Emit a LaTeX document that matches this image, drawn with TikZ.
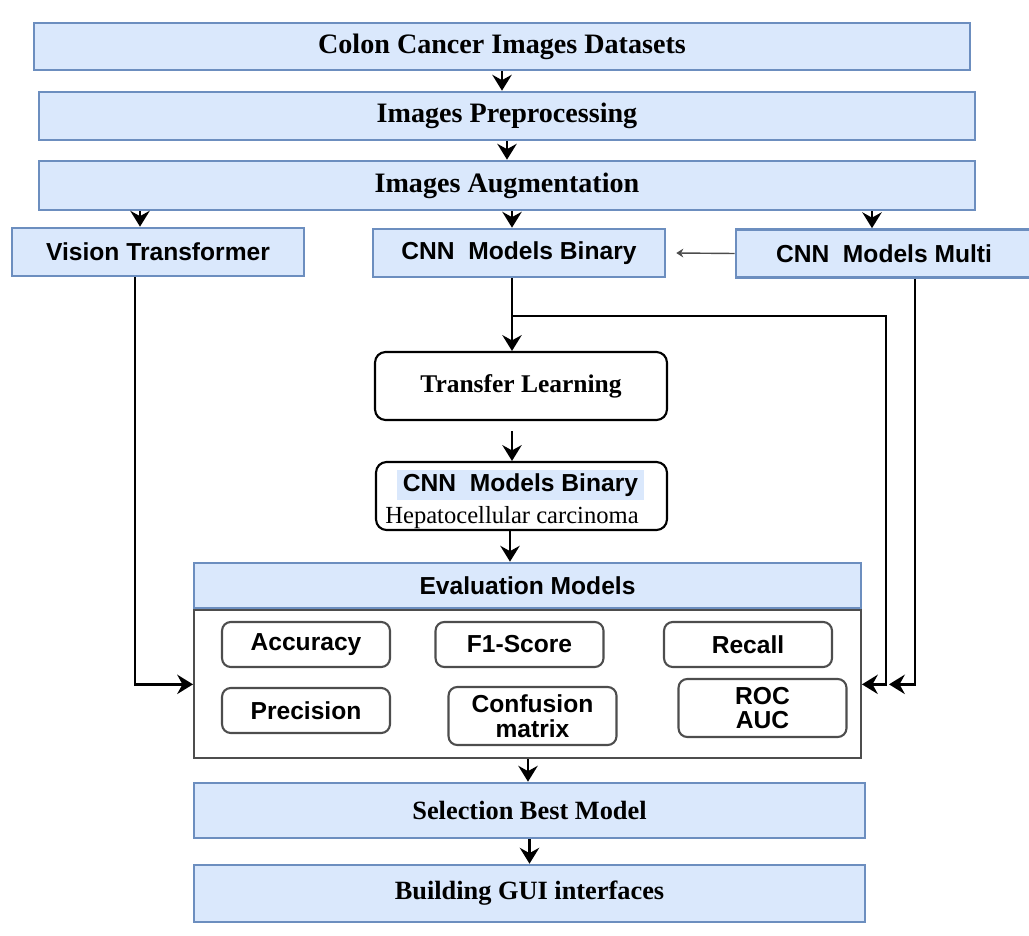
\documentclass[tikz,border=0pt]{standalone}
\usepackage{fontspec}
\setmainfont{Liberation Serif}
\setsansfont{Liberation Sans}
\usetikzlibrary{arrows.meta}
\definecolor{boxfill}{HTML}{DAE8FC}
\definecolor{boxline}{HTML}{6C8EBF}
\definecolor{evalline}{HTML}{4D4D4D}

\begin{document}
\begin{tikzpicture}[
            x=0.02cm, y=-0.02cm,
            Stage/.style={draw=boxline, fill=boxfill, line width=1.5pt, inner sep=0pt, font=\bfseries\fontsize{16}{18}\selectfont},
            Model/.style={Stage, font=\sffamily\bfseries\fontsize{14}{16}\selectfont, minimum width=5.84cm, minimum height=0.96cm},
            Step/.style={draw=black, line width=1.2pt, rounded corners=6pt, minimum width=5.84cm, minimum height=1.36cm, inner sep=0pt},
            Metric/.style={draw=evalline, line width=1.2pt, rounded corners=5pt, minimum width=3.36cm, minimum height=0.9cm, inner sep=0pt, align=center, font=\sffamily\bfseries\fontsize{14}{14}\selectfont},
            Flow/.style={line width=1.6pt, -{Stealth[length=9pt, width=11pt, inset=3pt]}},
        ]
        \useasboundingbox (0,0) rectangle (1029,936);

        \node[Stage, minimum width=18.72cm, minimum height=0.94cm] (data) at (502,46.5) {Colon Cancer Images Datasets};
        \node[Stage, minimum width=18.72cm, minimum height=0.96cm] (prep) at (507,116) {Images Preprocessing};
        \node[Stage, minimum width=18.72cm, minimum height=0.98cm] (aug) at (507,185.5) {Images Augmentation};

        \node[Model] (vit) at (158,252) {Vision Transformer};
        \node[Model] (cnnb) at (519,253) {CNN\ \ Models Binary};
        \node[Model, minimum width=5.92cm] (cnnm) at (884,253.5) {CNN\ \ Models Multi};

        \node[Step, font=\bfseries\fontsize{14.5}{17}\selectfont] (tl) at (521,386) {Transfer Learning};
        \node[Step, minimum width=5.82cm] (hcc) at (521.5,496) {};
        \node[fill=boxfill, minimum width=4.94cm, minimum height=0.6cm, inner sep=0pt, font=\sffamily\bfseries\fontsize{14}{16}\selectfont] (hcctitle) at (520.5,485) {CNN\ \ Models Binary};
        \node[inner sep=0pt, font=\fontsize{14}{16}\selectfont] (hccsub) at (512,518) {Hepatocellular carcinoma};

        \node[Stage, font=\sffamily\bfseries\fontsize{14}{16}\selectfont, minimum width=13.34cm, minimum height=0.9cm] (evalhead) at (527.5,585.5) {Evaluation Models};
        \node[draw=evalline, line width=1.2pt, minimum width=13.34cm, minimum height=2.96cm, anchor=north] (evalbody) at (evalhead.south) {};

        \node[Metric] (acc) at (306,644.5) {Accuracy};
        \node[Metric] (f1) at (519.5,644.5) {F1-Score};
        \node[Metric] (rec) at (748,644.5) {Recall};
        \node[Metric] (prec) at (306,710.5) {Precision};
        \node[Metric, minimum height=1.16cm] (conf) at (532.5,716) {Confusion\\matrix};
        \node[Metric, minimum height=1.16cm] (roc) at (762.5,708) {ROC\\AUC};

        \node[Stage, font=\bfseries\fontsize{15}{17}\selectfont, minimum width=13.42cm, minimum height=1.1cm] (sel) at (529.5,810.5) {Selection Best Model};
        \node[Stage, font=\bfseries\fontsize{15}{17}\selectfont, minimum width=13.42cm, minimum height=1.14cm] (gui) at (529.5,893.5) {Building GUI interfaces};

        \draw[Flow] (data.south) -- (data.south |- prep.north);
        \draw[Flow] (prep.south) -- (prep.south |- aug.north);
        \draw[Flow] (140,0 |- aug.south) -- (140,0 |- vit.north);
        \draw[Flow] (512,0 |- aug.south) -- (512,0 |- cnnb.north);
        \draw[Flow] (872,0 |- aug.south) -- (872,0 |- cnnm.north);
        \draw[line width=0.8pt, draw=black!70, -{Stealth[length=4pt, width=5pt]}] (cnnm.west) -- ([xshift=0.2cm]cnnb.east);

        \draw[Flow] (512,0 |- cnnb.south) -- (512,0 |- tl.north);
        \coordinate (split) at (512,316);
        \draw[Flow] (split) -| (886,0 |- evalbody.east) -- (evalbody.east);
        \draw[Flow] (915,0 |- cnnm.south) -- (915,0 |- evalbody.east) -- (889,0 |- evalbody.east);
        \draw[Flow] (135,0 |- vit.south) |- (evalbody.west);

        \draw[Flow, shorten <=0.2cm] (512,0 |- tl.south) -- (512,0 |- hcc.north);
        \draw[Flow] (510,0 |- hcc.south) -- (510,0 |- evalhead.north);
        \draw[Flow] (528,0 |- evalbody.south) -- (528,0 |- sel.north);
        \draw[Flow] (sel.south) -- (gui.north);
    \end{tikzpicture}
\end{document}
